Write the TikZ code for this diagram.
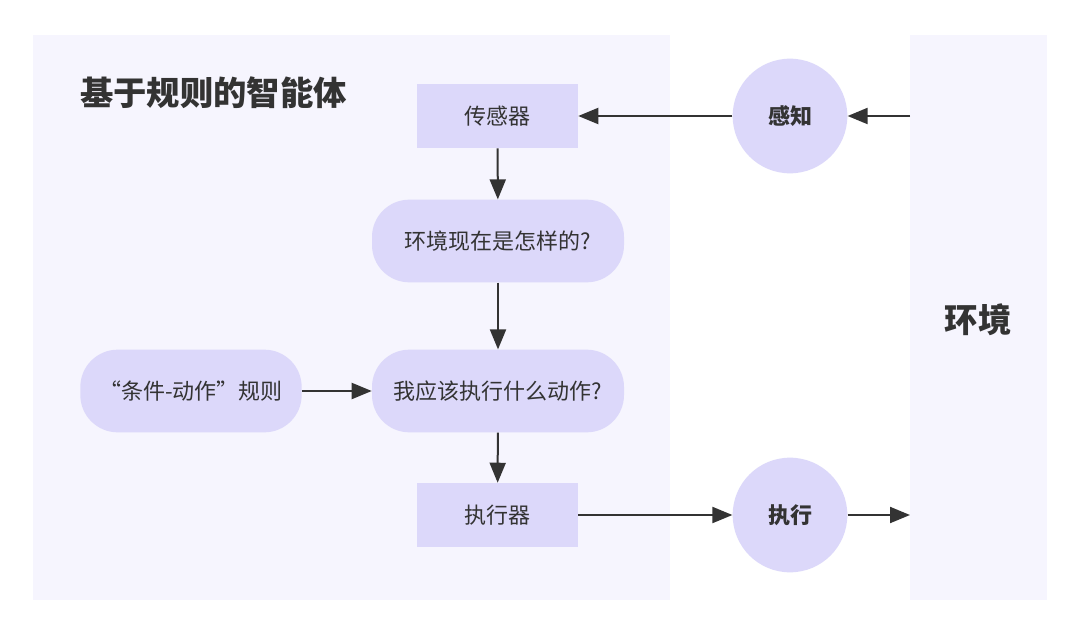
\documentclass[tikz,border=0pt]{standalone}
\usepackage{fontspec}
\setmainfont{Noto Sans CJK SC}
\usetikzlibrary{arrows.meta}
\definecolor{panel}{HTML}{F6F5FE}
\definecolor{nodefill}{HTML}{DCD8FA}
\definecolor{ink}{HTML}{333333}
\tikzset{
  box/.style={fill=nodefill, draw=none, inner sep=0pt, minimum width=120.75pt, minimum height=48pt, font=\fontsize{16.5pt}{18pt}\selectfont, text=ink},
  pill/.style={fill=nodefill, draw=none, inner sep=0pt, minimum width=189pt, minimum height=62pt, rounded corners=28pt, font=\fontsize{16.5pt}{18pt}\selectfont, text=ink},
  ball/.style={circle, fill=nodefill, draw=none, inner sep=0pt, minimum size=86pt, font=\bfseries\fontsize{16.5pt}{18pt}\selectfont, text=ink},
  conn/.style={draw=ink, line width=1.5pt, -{Triangle[length=15pt,width=12pt]}},
}
\begin{document}
\begin{tikzpicture}[x=0.75pt,y=-0.75pt]
\useasboundingbox (0,0) rectangle (1080,638);
\fill[white] (0,0) rectangle (1080,638);
% panels
\fill[panel] (33,35) rectangle (670,600);
\fill[panel] (910,35) rectangle (1047,600);
\node[anchor=west, font=\bfseries\fontsize{25pt}{28pt}\selectfont, text=ink, inner sep=0pt] (title) at (80,93) {基于规则的智能体};
\node[font=\bfseries\fontsize{25pt}{28pt}\selectfont, text=ink, inner sep=0pt] (envlabel) at (978,320) {环境};
\coordinate (envin) at (910,116);
\coordinate (envout) at (910,515);
% nodes
\node[box] (sensor) at (497.5,116) {传感器};
\node[ball] (perceive) at (790,116) {感知};
\node[pill] (state) at (498,241) {环境现在是怎样的?};
\node[pill] (action) at (498,391) {我应该执行什么动作?};
\node[pill, minimum width=166pt] (rule) at (191,391) {“条件-动作”规则};
\node[box] (actuator) at (497.5,515) {执行器};
\node[ball] (execute) at (790,515) {执行};
% connectors
\draw[conn] (envin) -- (perceive);
\draw[conn] (perceive) -- (sensor);
\draw[conn] (sensor) -- (state);
\draw[conn] (state) -- (action);
\draw[conn] (rule) -- (action);
\draw[conn] (action) -- (actuator);
\draw[conn] (actuator) -- (execute);
\draw[conn] (execute) -- (envout);
\end{tikzpicture}
\end{document}
